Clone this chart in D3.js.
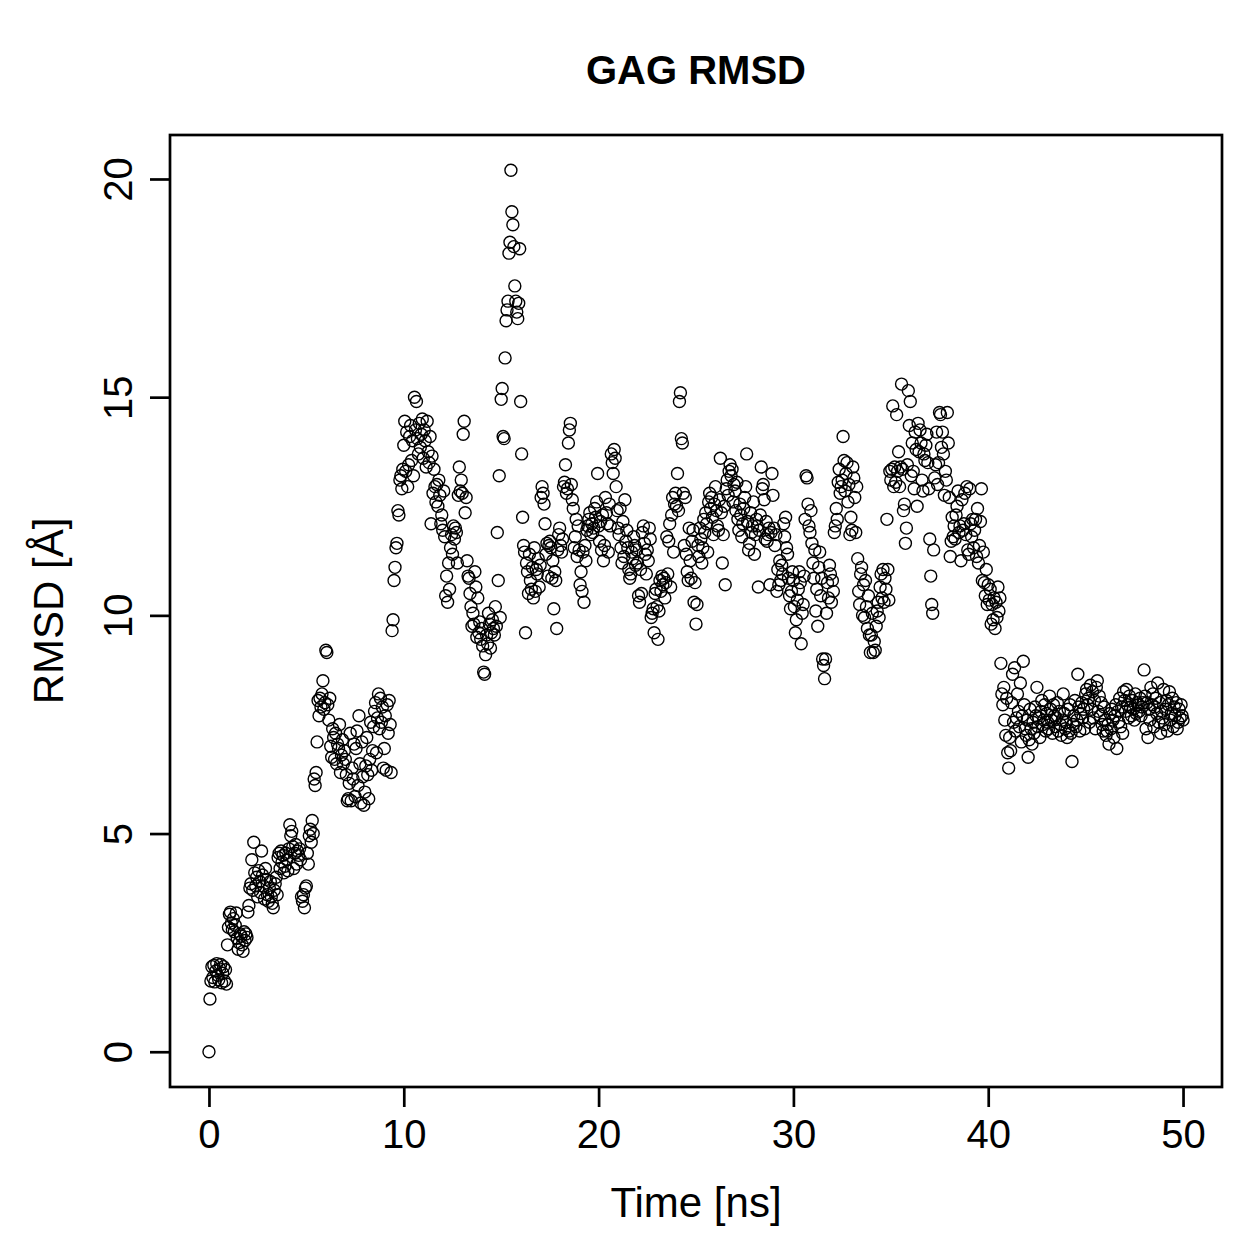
<!DOCTYPE html>
<html>
<head>
<meta charset="utf-8">
<script src="https://cdn.jsdelivr.net/npm/d3@7"></script>
<style>
  body { margin: 0; background: #fff; }
  text { font-family: "Liberation Sans", Arial, Helvetica, sans-serif; fill: #000; }
</style>
</head>
<body>
<div id="chart"></div>
<script>
// RMSD per frame, one frame every 0.05 ns (20 frames per ns)
var timeStep = 0.05;

var rmsd0to10 = [
  0.00, 1.21, 1.62, 1.95, 1.70, 1.98, 1.60, 1.85, 2.02, 1.75, 1.65, 1.90, 2.00, 1.58, 1.80, 1.95, 1.62, 1.88, 1.55, 2.45,
  2.85, 3.15, 3.20, 2.95, 2.80, 3.05, 2.75, 2.90, 3.18, 2.60, 2.35, 2.50, 2.70, 2.65, 2.45, 2.30, 2.75, 2.55, 2.70, 2.62,
  3.20, 3.35, 3.75, 3.85, 4.40, 3.70, 4.80, 4.10, 3.80, 4.00, 3.55, 4.15, 3.90, 3.65, 4.60, 4.05, 3.80, 3.50, 4.20, 3.95,
  3.60, 3.45, 3.75, 3.90, 3.55, 3.40, 3.30, 3.70, 3.85, 4.00, 3.60, 4.45, 4.55, 4.20, 4.60, 4.35, 4.50, 4.10, 4.25, 4.55,
  4.40, 4.15, 4.65, 5.20, 4.95, 5.05, 4.70, 4.20, 4.55, 4.75, 4.30, 4.60, 4.50, 4.65, 4.40, 3.55, 3.45, 3.60, 3.30, 3.75,
  3.80, 4.55, 4.30, 4.95, 5.10, 4.80, 5.30, 5.00, 6.25, 6.10, 6.40, 7.10, 8.05, 7.70, 8.10, 7.90, 8.20, 8.50, 7.85, 8.00,
  9.20, 9.15, 7.95, 7.60, 8.10, 7.00, 6.75, 7.40, 7.20, 6.70, 7.30, 6.60, 7.05, 6.95, 7.50, 6.40, 6.80, 7.15, 6.60, 6.90,
  6.70, 6.35, 5.75, 5.80, 6.15, 7.30, 5.75, 6.50, 6.25, 7.05, 5.85, 6.95, 7.35, 6.10, 7.70, 6.60, 5.70, 7.10, 6.30, 5.65,
  5.95, 6.55, 7.20, 6.35, 5.80, 6.70, 7.55, 6.45, 6.90, 7.45, 7.80, 8.00, 6.85, 7.65, 8.20, 7.40, 8.10, 7.55, 7.90, 6.50,
  6.95, 7.70, 6.45, 7.95, 7.30, 8.05, 7.50, 6.40, 9.65, 9.90, 10.80, 11.10, 11.55, 11.65, 12.40, 12.30, 13.10, 13.20, 12.90, 13.35
];

var rmsd10to20 = [
  13.90, 14.45, 13.30, 14.20, 12.95, 13.45, 14.10, 14.35, 13.55, 14.00, 13.20, 15.00, 14.25, 14.90, 14.05, 13.70, 14.40, 13.85, 14.15, 14.50,
  13.60, 14.25, 14.00, 13.40, 14.45, 13.75, 13.50, 14.10, 12.10, 13.65, 12.80, 13.35, 12.95, 12.60, 13.00, 12.50, 13.10, 12.75, 12.10, 12.30,
  11.95, 12.85, 11.80, 10.45, 10.90, 10.30, 11.20, 10.60, 11.55, 11.85, 11.40, 12.05, 11.75, 12.00, 11.90, 11.20, 12.75, 13.40, 12.85, 13.10,
  12.80, 14.15, 14.45, 12.35, 12.70, 11.25, 10.90, 10.85, 10.50, 10.20, 9.75, 10.05, 9.80, 11.00, 10.65, 9.50, 10.40, 9.60, 9.85, 9.45,
  9.70, 9.30, 8.70, 8.65, 9.10, 9.55, 9.35, 10.05, 9.80, 9.25, 9.60, 9.90, 9.70, 9.55, 10.20, 9.75, 11.90, 10.80, 13.20, 9.95,
  14.95, 15.20, 14.10, 14.05, 15.90, 16.75, 17.00, 17.20, 18.30, 18.55, 20.20, 19.25, 18.95, 18.45, 17.55, 17.20, 16.95, 16.80, 17.15, 18.40,
  14.90, 13.70, 12.25, 11.60, 11.45, 9.60, 11.20, 11.00, 10.50, 11.40, 10.80, 10.60, 11.10, 10.40, 11.55, 10.55, 11.05, 10.95, 11.30, 10.65,
  11.15, 12.70, 12.95, 12.80, 12.55, 12.10, 11.40, 11.65, 10.90, 11.60, 11.70, 11.55, 10.85, 11.25, 10.15, 11.00, 10.80, 9.70, 11.50, 11.85,
  12.00, 11.60, 11.45, 11.75, 12.95, 13.05, 13.45, 12.80, 12.90, 13.95, 14.25, 14.40, 13.00, 12.65, 12.45, 11.55, 11.80, 12.20, 11.35, 12.05,
  11.50, 10.70, 11.00, 10.55, 11.45, 10.30, 11.60, 11.25, 11.95, 12.05, 12.20, 12.35, 11.85, 12.10, 11.90, 12.00, 12.45, 12.25, 12.60, 13.25
];

var rmsd20to30 = [
  12.05, 11.70, 12.15, 11.50, 12.30, 11.25, 11.60, 12.70, 12.35, 12.10, 11.45, 12.55, 12.05, 13.70, 13.50, 13.25, 13.80, 13.60, 12.95, 12.40,
  12.00, 11.85, 12.45, 11.55, 11.20, 12.15, 11.35, 12.65, 11.70, 11.95, 11.55, 11.05, 10.85, 10.95, 11.45, 11.30, 11.80, 11.60, 11.15, 11.50,
  11.20, 10.45, 10.30, 11.05, 10.50, 11.90, 12.05, 11.65, 11.40, 10.95, 11.50, 11.25, 12.00, 11.75, 9.95, 10.05, 10.15, 9.60, 10.50, 10.60,
  10.20, 9.45, 10.10, 10.80, 10.55, 10.90, 10.70, 10.85, 10.40, 10.75, 11.80, 10.95, 11.70, 12.10, 10.65, 12.30, 12.70, 11.45, 12.55, 12.80,
  12.50, 13.25, 12.40, 14.90, 15.10, 14.05, 13.95, 12.80, 11.60, 12.70, 11.40, 11.00, 10.80, 12.00, 11.25, 10.85, 11.70, 11.95, 10.30, 10.75,
  9.80, 10.25, 11.60, 11.35, 12.00, 11.75, 11.20, 11.55, 12.20, 11.90, 12.35, 12.10, 11.45, 12.60, 12.80, 12.45, 12.70, 12.25, 11.85, 12.55,
  12.95, 12.40, 12.05, 11.95, 12.65, 13.60, 12.35, 11.20, 11.85, 12.50, 10.70, 12.90, 13.10, 12.75, 13.30, 13.45, 13.20, 13.35, 12.60, 13.00,
  12.85, 12.40, 13.05, 12.20, 11.95, 12.55, 12.30, 11.80, 12.10, 12.45, 12.70, 12.95, 13.70, 12.15, 11.50, 11.65, 12.35, 11.90, 12.05, 12.60,
  11.40, 11.85, 12.20, 12.05, 10.65, 11.95, 12.30, 13.40, 12.90, 13.00, 12.65, 11.75, 12.15, 11.70, 11.85, 12.00, 10.70, 11.90, 13.25, 12.75,
  12.00, 11.60, 11.85, 10.55, 11.05, 10.70, 11.25, 10.80, 11.15, 10.95, 12.10, 11.80, 12.25, 11.55, 11.40, 10.85, 10.45, 10.15, 10.55, 11.00
];

var rmsd30to40 = [
  10.80, 10.20, 9.60, 9.90, 10.35, 10.60, 11.00, 10.75, 9.35, 10.05, 10.25, 10.90, 12.20, 13.20, 13.15, 12.55, 12.05, 11.90, 12.40, 11.65,
  11.20, 10.85, 11.50, 10.10, 10.60, 9.75, 11.10, 11.45, 10.45, 10.85, 9.00, 8.85, 8.55, 9.00, 10.05, 10.75, 10.40, 11.15, 10.95, 10.30,
  10.80, 10.55, 11.90, 12.05, 12.45, 12.20, 13.05, 13.35, 12.80, 12.95, 13.10, 14.10, 13.55, 12.85, 13.25, 13.50, 12.60, 13.00, 11.85, 12.25,
  11.95, 13.40, 13.15, 12.70, 11.90, 12.95, 11.30, 10.55, 10.25, 10.95, 11.10, 10.00, 10.70, 9.95, 10.80, 10.20, 9.70, 10.45, 9.55, 9.15,
  9.55, 10.05, 9.15, 9.40, 9.20, 9.75, 10.10, 10.30, 9.95, 10.65, 10.95, 10.40, 11.05, 10.30, 10.85, 10.60, 12.20, 11.05, 10.35, 13.30,
  13.10, 13.35, 14.80, 12.95, 13.40, 13.05, 14.60, 13.30, 13.75, 12.95, 13.40, 15.30, 13.35, 12.40, 12.55, 11.65, 12.00, 13.45, 15.15, 14.35,
  14.90, 13.20, 13.95, 13.30, 12.90, 14.20, 13.80, 12.50, 14.40, 13.75, 14.25, 13.95, 13.10, 12.85, 13.70, 13.55, 13.90, 14.15, 13.50, 12.90,
  11.75, 10.90, 10.25, 10.05, 11.50, 13.15, 13.45, 14.20, 13.00, 13.50, 14.65, 14.60, 13.85, 14.20, 13.70, 12.75, 13.30, 13.10, 14.65, 13.95,
  12.70, 11.35, 11.70, 12.25, 11.80, 12.05, 11.75, 12.30, 12.50, 12.85, 11.90, 12.05, 11.25, 12.65, 11.95, 12.10, 12.80, 11.85, 12.95, 11.50,
  11.40, 12.90, 12.10, 11.80, 12.20, 11.55, 11.95, 12.20, 11.35, 12.45, 11.20, 11.60, 12.15, 12.90, 10.80, 11.45, 10.75, 10.45, 11.05, 10.25
];

var rmsd40to50 = [
  10.70, 10.35, 10.60, 9.80, 10.25, 9.90, 10.40, 9.70, 10.30, 9.95, 10.65, 10.10, 10.40, 8.90, 8.20, 7.95, 8.35, 7.60, 7.25, 8.10,
  6.85, 6.50, 7.20, 6.90, 8.00, 8.65, 7.55, 8.80, 7.35, 7.65, 8.20, 7.80, 7.45, 8.45, 7.10, 7.70, 8.95, 7.95, 7.40, 7.25,
  7.60, 6.75, 7.15, 7.85, 7.40, 7.05, 7.55, 7.30, 7.90, 7.70, 8.35, 7.45, 7.65, 7.20, 7.80, 8.05, 7.50, 7.60, 7.95, 7.35,
  7.75, 7.55, 7.40, 8.15, 7.85, 7.60, 7.30, 7.95, 7.70, 7.45, 7.65, 8.00, 7.35, 7.80, 7.50, 7.25, 7.60, 8.20, 7.75, 7.40,
  7.55, 7.20, 7.85, 7.35, 7.95, 7.30, 6.65, 7.50, 7.70, 8.05, 7.45, 7.60, 8.65, 7.90, 7.35, 7.75, 8.00, 7.65, 7.85, 7.40,
  8.20, 8.30, 7.95, 8.10, 7.55, 8.40, 7.85, 8.25, 7.65, 8.05, 7.40, 8.35, 8.50, 7.80, 8.15, 7.70, 8.00, 7.50, 7.35, 7.90,
  7.60, 7.25, 7.35, 7.50, 7.05, 7.75, 7.40, 7.85, 7.60, 7.20, 7.70, 7.95, 6.95, 7.80, 7.55, 8.10, 7.45, 7.90, 7.30, 8.25,
  8.05, 7.80, 8.30, 7.95, 7.65, 8.15, 7.90, 7.70, 8.05, 7.85, 7.60, 8.20, 7.75, 8.00, 7.95, 7.80, 8.10, 7.70, 7.90, 8.00,
  8.75, 8.15, 7.40, 8.00, 7.20, 7.85, 7.60, 8.35, 7.95, 8.20, 7.45, 7.90, 8.10, 7.75, 8.45, 7.55, 8.00, 7.30, 7.80, 7.65,
  8.30, 7.50, 7.85, 8.05, 7.35, 7.95, 8.25, 7.60, 7.75, 8.10, 7.45, 7.90, 7.70, 8.00, 7.40, 7.55, 7.85, 7.65, 7.95, 7.70, 7.60
];

var xTicks = [0, 10, 20, 30, 40, 50];
var yTicks = [0, 5, 10, 15, 20];
var chartTitle = "GAG RMSD";
var xLabel = "Time [ns]";
var yLabel = "RMSD [\u00c5]";

var rmsd = rmsd0to10.concat(rmsd10to20, rmsd20to30, rmsd30to40, rmsd40to50);
var data = rmsd.map(function(v, i) { return { t: i * timeStep, rmsd: v }; });

var width = 1259, height = 1259;
var margin = { top: 135, right: 37, bottom: 172, left: 170 };
var plotW = width - margin.left - margin.right,
    plotH = height - margin.top - margin.bottom;

// R style: data range padded by 4% on each side
function padded(ext) {
  var d = (ext[1] - ext[0]) * 0.04;
  return [ext[0] - d, ext[1] + d];
}

var x = d3.scaleLinear()
  .domain(padded(d3.extent(data, function(d) { return d.t; })))
  .range([0, plotW]);
var y = d3.scaleLinear()
  .domain(padded(d3.extent(data, function(d) { return d.rmsd; })))
  .range([plotH, 0]);

var svg = d3.select("#chart")
  .append("svg")
  .attr("width", width)
  .attr("height", height);

svg.append("rect")
  .attr("width", width)
  .attr("height", height)
  .attr("fill", "#fff");

var g = svg.append("g")
  .attr("transform", "translate(" + margin.left + "," + margin.top + ")");

var xAxis = g.append("g")
  .attr("transform", "translate(0," + plotH + ")")
  .call(d3.axisBottom(x).tickValues(xTicks).tickSize(20).tickPadding(13).tickFormat(d3.format("d")));
xAxis.select(".domain").remove();
xAxis.selectAll("line").attr("stroke", "#000").attr("stroke-width", 2.7);
xAxis.selectAll("text")
  .attr("font-size", 40)
  .style("font-family", "'Liberation Sans', Arial, Helvetica, sans-serif");

var yAxis = g.append("g")
  .call(d3.axisLeft(y).tickValues(yTicks).tickSize(20).tickFormat(d3.format("d")));
yAxis.select(".domain").remove();
yAxis.selectAll("line").attr("stroke", "#000").attr("stroke-width", 2.7);
yAxis.selectAll("text")
  .attr("x", null)
  .attr("dy", null)
  .attr("text-anchor", "middle")
  .attr("transform", "translate(-38,0) rotate(-90)")
  .attr("font-size", 40)
  .style("font-family", "'Liberation Sans', Arial, Helvetica, sans-serif");

// points: open circles like R's pch = 1
g.append("g")
  .selectAll("circle")
  .data(data)
  .enter()
  .append("circle")
  .attr("cx", function(d) { return x(d.t); })
  .attr("cy", function(d) { return y(d.rmsd); })
  .attr("r", 6)
  .attr("fill", "none")
  .attr("stroke", "#000")
  .attr("stroke-width", 1.4);

g.append("rect")
  .attr("width", plotW)
  .attr("height", plotH)
  .attr("fill", "none")
  .attr("stroke", "#000")
  .attr("stroke-width", 2.7);

svg.append("text")
  .attr("x", margin.left + plotW / 2)
  .attr("y", 84)
  .attr("text-anchor", "middle")
  .attr("font-size", 40)
  .attr("font-weight", "bold")
  .text(chartTitle);

svg.append("text")
  .attr("x", margin.left + plotW / 2)
  .attr("y", 1217)
  .attr("text-anchor", "middle")
  .attr("font-size", 42)
  .text(xLabel);

svg.append("text")
  .attr("transform", "translate(63," + (margin.top + plotH / 2) + ") rotate(-90)")
  .attr("text-anchor", "middle")
  .attr("font-size", 42)
  .text(yLabel);
</script>
</body>
</html>
